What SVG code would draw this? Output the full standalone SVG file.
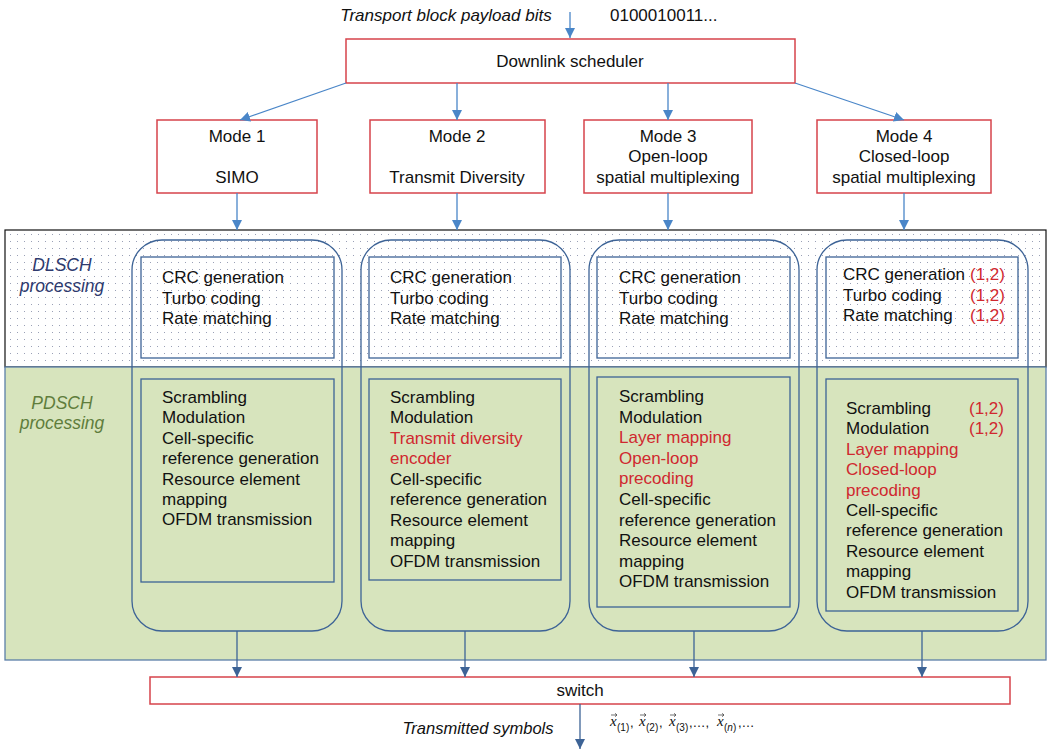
<svg xmlns="http://www.w3.org/2000/svg" width="1047" height="751" viewBox="0 0 1047 751">
<defs>
<pattern id="dots" x="0" y="0" width="7" height="7" patternUnits="userSpaceOnUse">
<rect x="3" y="3" width="1" height="1" fill="#9aa0b6"/>
</pattern>
<marker id="ahLight" viewBox="0 0 10 10" refX="10" refY="5" markerWidth="10" markerHeight="10" markerUnits="userSpaceOnUse" orient="auto">
<path d="M0,0 L10,5 L0,10 z" fill="#4a86c8"/>
</marker>
<marker id="ahDark" viewBox="0 0 10 10" refX="10" refY="5" markerWidth="10" markerHeight="10" markerUnits="userSpaceOnUse" orient="auto">
<path d="M0,0 L10,5 L0,10 z" fill="#3d6396"/>
</marker>
<style>
text{font-family:"Liberation Sans",Arial,sans-serif;font-size:17px;fill:#111}
.c{text-anchor:middle}
.it{font-style:italic}
.red{fill:#d0282f}
.rbox{fill:#fff;stroke:#d6434b;stroke-width:1.5}
.col{fill:none;stroke:#3d6396;stroke-width:1.3}
.inner{fill:none;stroke:#3d6396;stroke-width:1.3}
.la{stroke:#4a86c8;stroke-width:1.3;fill:none;marker-end:url(#ahLight)}
.da{stroke:#3d6396;stroke-width:1.3;fill:none;marker-end:url(#ahDark)}
.m{font-family:"Liberation Serif","Times New Roman",serif}
.vec{stroke:#333;stroke-width:0.7;fill:none}
</style>
</defs>

<g id="background">
<rect x="5" y="230" width="1041" height="137" fill="#fff"/>
<rect x="5" y="230" width="1041" height="137" fill="url(#dots)" stroke="#111" stroke-width="1.2"/>
<rect x="5" y="367" width="1041" height="293" fill="#d7e4bd" stroke="#5b7fa8" stroke-width="1.3"/>
<text x="62" y="271" class="c it" style="fill:#2e3a6e;font-size:17.5px">DLSCH</text>
<text x="62" y="292" class="c it" style="fill:#2e3a6e;font-size:17.5px">processing</text>
<text x="62" y="409" class="c it" style="fill:#5f7d3c;font-size:17.5px">PDSCH</text>
<text x="62" y="429" class="c it" style="fill:#5f7d3c;font-size:17.5px">processing</text>
</g>

<g id="input">
<text x="446" y="21" class="c it">Transport block payload bits</text>
<text x="610" y="21">0100010011...</text>
</g>

<g id="scheduler">
<rect class="rbox" x="346" y="39" width="449" height="44"/>
<text x="570" y="67" class="c">Downlink scheduler</text>
</g>

<g id="mode1">
<rect class="rbox" x="157" y="120" width="160" height="73"/>
<text x="237" y="142" class="c">Mode 1</text>
<text x="237" y="183" class="c">SIMO</text>
</g>
<g id="mode2">
<rect class="rbox" x="370" y="120" width="175" height="73"/>
<text x="457" y="142" class="c">Mode 2</text>
<text x="457" y="183" class="c">Transmit Diversity</text>
</g>
<g id="mode3">
<rect class="rbox" x="584" y="120" width="168" height="73"/>
<text x="668" y="142" class="c">Mode 3</text>
<text x="668" y="162" class="c">Open-loop</text>
<text x="668" y="183" class="c">spatial multiplexing</text>
</g>
<g id="mode4">
<rect class="rbox" x="817" y="120" width="174" height="73"/>
<text x="904" y="142" class="c">Mode 4</text>
<text x="904" y="162" class="c">Closed-loop</text>
<text x="904" y="183" class="c">spatial multiplexing</text>
</g>

<g id="chain1">
<rect class="col" x="132" y="240" width="210" height="391" rx="30"/>
<rect class="inner" x="141" y="257" width="193" height="101"/>
<text x="162" y="283">CRC generation</text>
<text x="162" y="303.5">Turbo coding</text>
<text x="162" y="324">Rate matching</text>
<rect class="inner" x="141" y="379" width="193" height="203"/>
<text x="162" y="403">Scrambling</text>
<text x="162" y="423.4">Modulation</text>
<text x="162" y="443.8">Cell-specific</text>
<text x="162" y="464.2">reference generation</text>
<text x="162" y="484.6">Resource element</text>
<text x="162" y="505">mapping</text>
<text x="162" y="525.4">OFDM transmission</text>
</g>

<g id="chain2">
<rect class="col" x="361" y="240" width="209" height="391" rx="30"/>
<rect class="inner" x="369" y="257" width="192" height="101"/>
<text x="390" y="283">CRC generation</text>
<text x="390" y="303.5">Turbo coding</text>
<text x="390" y="324">Rate matching</text>
<rect class="inner" x="369" y="379" width="192" height="201"/>
<text x="390" y="402.5">Scrambling</text>
<text x="390" y="423">Modulation</text>
<text x="390" y="443.5" class="red">Transmit diversity</text>
<text x="390" y="464" class="red">encoder</text>
<text x="390" y="484.5">Cell-specific</text>
<text x="390" y="505">reference generation</text>
<text x="390" y="525.5">Resource element</text>
<text x="390" y="546">mapping</text>
<text x="390" y="566.5">OFDM transmission</text>
</g>

<g id="chain3">
<rect class="col" x="589" y="240" width="210" height="391" rx="30"/>
<rect class="inner" x="597" y="257" width="193" height="101"/>
<text x="619" y="283">CRC generation</text>
<text x="619" y="303.5">Turbo coding</text>
<text x="619" y="324">Rate matching</text>
<rect class="inner" x="597" y="377" width="193" height="230"/>
<text x="619" y="402">Scrambling</text>
<text x="619" y="422.6">Modulation</text>
<text x="619" y="443.2" class="red">Layer mapping</text>
<text x="619" y="463.8" class="red">Open-loop</text>
<text x="619" y="484.4" class="red">precoding</text>
<text x="619" y="505">Cell-specific</text>
<text x="619" y="525.6">reference generation</text>
<text x="619" y="546.2">Resource element</text>
<text x="619" y="566.8">mapping</text>
<text x="619" y="587.4">OFDM transmission</text>
</g>

<g id="chain4">
<rect class="col" x="817" y="240" width="211" height="391" rx="30"/>
<rect class="inner" x="826" y="257" width="192" height="101"/>
<text x="843" y="280">CRC generation</text>
<text x="843" y="300.5">Turbo coding</text>
<text x="843" y="321">Rate matching</text>
<text x="970" y="280" class="red">(1,2)</text>
<text x="970" y="300.5" class="red">(1,2)</text>
<text x="970" y="321" class="red">(1,2)</text>
<rect class="inner" x="826" y="379" width="192" height="232"/>
<text x="846" y="414">Scrambling</text>
<text x="846" y="434.4">Modulation</text>
<text x="969" y="414" class="red">(1,2)</text>
<text x="969" y="434.4" class="red">(1,2)</text>
<text x="846" y="454.8" class="red">Layer mapping</text>
<text x="846" y="475.2" class="red">Closed-loop</text>
<text x="846" y="495.6" class="red">precoding</text>
<text x="846" y="516">Cell-specific</text>
<text x="846" y="536.4">reference generation</text>
<text x="846" y="556.8">Resource element</text>
<text x="846" y="577.2">mapping</text>
<text x="846" y="597.6">OFDM transmission</text>
</g>

<g id="switch">
<rect class="rbox" x="150" y="677" width="860" height="27"/>
<text x="580" y="696" class="c">switch</text>
</g>

<g id="output">
<text x="478" y="734" class="c it" style="font-size:16.5px">Transmitted symbols</text>
<path class="vec" d="M611,715 h6 M615,713.3 l2,1.7 l-2,1.7"/>
<path class="vec" d="M640,715 h6 M644,713.3 l2,1.7 l-2,1.7"/>
<path class="vec" d="M670,715 h6 M674,713.3 l2,1.7 l-2,1.7"/>
<path class="vec" d="M718,715 h6 M722,713.3 l2,1.7 l-2,1.7"/>
<text x="610" y="726" class="m it" style="font-size:15px">x</text>
<text x="617" y="731" style="font-size:10px">(1)</text>
<text x="630" y="727" style="font-size:13px">,</text>
<text x="639" y="726" class="m it" style="font-size:15px">x</text>
<text x="646" y="731" style="font-size:10px">(2)</text>
<text x="659" y="727" style="font-size:13px">,</text>
<text x="669" y="726" class="m it" style="font-size:15px">x</text>
<text x="676" y="731" style="font-size:10px">(3)</text>
<text x="689" y="727" style="font-size:13px">,…,</text>
<text x="717" y="726" class="m it" style="font-size:15px">x</text>
<text x="724" y="731" style="font-size:10px">(<tspan font-style="italic">n</tspan>)</text>
<text x="738" y="727" style="font-size:13px">,…</text>
</g>

<g id="connectors">
<line class="la" x1="570" y1="12" x2="570" y2="38"/>
<line class="la" x1="346" y1="83" x2="240" y2="120"/>
<line class="la" x1="457" y1="83" x2="457" y2="120"/>
<line class="la" x1="668" y1="83" x2="668" y2="120"/>
<line class="la" x1="795" y1="83" x2="904" y2="120"/>
<line class="la" x1="237" y1="193" x2="237" y2="230"/>
<line class="la" x1="457" y1="193" x2="457" y2="230"/>
<line class="la" x1="668" y1="193" x2="668" y2="230"/>
<line class="la" x1="904" y1="193" x2="904" y2="230"/>
<line class="da" x1="237" y1="631" x2="237" y2="677"/>
<line class="da" x1="465" y1="631" x2="465" y2="677"/>
<line class="da" x1="694" y1="631" x2="694" y2="677"/>
<line class="da" x1="922" y1="631" x2="922" y2="677"/>
<line class="da" x1="580" y1="704" x2="580" y2="749"/>
</g>
</svg>
